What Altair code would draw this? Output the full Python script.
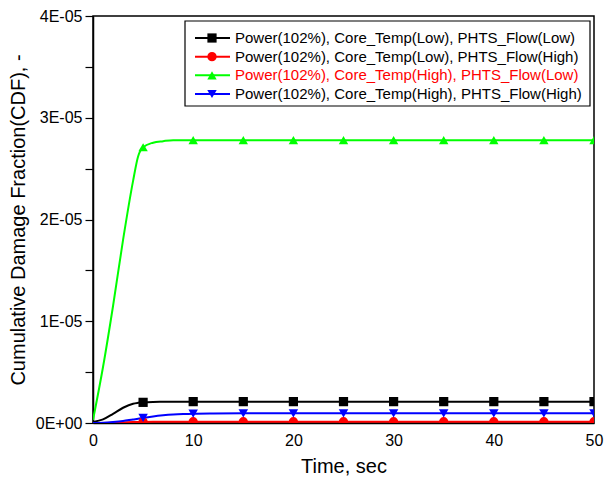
import altair as alt
import pandas as pd

# ---- data ----
series_names = [
    "Power(102%), Core_Temp(Low), PHTS_Flow(Low)",
    "Power(102%), Core_Temp(Low), PHTS_Flow(High)",
    "Power(102%), Core_Temp(High), PHTS_Flow(Low)",
    "Power(102%), Core_Temp(High), PHTS_Flow(High)",
]
series_colors = ["#000000", "#FF0000", "#00FF00", "#0000FF"]
series_shapes = ["square", "circle", "triangle-up", "triangle-down"]
series_sizes = [85, 90, 140, 140]

time_s = [0, 1, 2, 3, 4, 4.5, 5, 6, 7, 8, 9, 10, 12, 15, 20, 25, 30, 35, 40, 45, 50]

cdf_low_low = [0.010e-5, 0.035e-5, 0.090e-5, 0.150e-5, 0.190e-5, 0.198e-5, 0.203e-5, 0.207e-5,
               0.208e-5, 0.209e-5, 0.210e-5, 0.210e-5, 0.210e-5, 0.210e-5, 0.210e-5, 0.210e-5,
               0.210e-5, 0.210e-5, 0.210e-5, 0.210e-5, 0.210e-5]
cdf_low_high = [0.000e-5, 0.001e-5, 0.003e-5, 0.006e-5, 0.009e-5, 0.010e-5, 0.011e-5, 0.012e-5,
                0.012e-5, 0.012e-5, 0.012e-5, 0.012e-5, 0.012e-5, 0.012e-5, 0.012e-5, 0.012e-5,
                0.012e-5, 0.012e-5, 0.012e-5, 0.012e-5, 0.012e-5]
cdf_high_low = [0.03e-5, 0.55e-5, 1.15e-5, 1.80e-5, 2.38e-5, 2.62e-5, 2.71e-5, 2.755e-5,
                2.77e-5, 2.78e-5, 2.78e-5, 2.78e-5, 2.78e-5, 2.78e-5, 2.78e-5, 2.78e-5,
                2.78e-5, 2.78e-5, 2.78e-5, 2.78e-5, 2.78e-5]
cdf_high_high = [0.000e-5, 0.003e-5, 0.010e-5, 0.020e-5, 0.035e-5, 0.042e-5, 0.050e-5, 0.065e-5,
                 0.076e-5, 0.084e-5, 0.089e-5, 0.092e-5, 0.094e-5, 0.095e-5, 0.095e-5, 0.095e-5,
                 0.095e-5, 0.095e-5, 0.095e-5, 0.095e-5, 0.095e-5]

all_series = [cdf_low_low, cdf_low_high, cdf_high_low, cdf_high_high]

rows = []
for name, vals in zip(series_names, all_series):
    for t, v in zip(time_s, vals):
        rows.append({"t": t, "v": v, "series": name})
df = pd.DataFrame(rows)

FONT = "Liberation Sans"

color_enc = alt.Color("series:N", scale=alt.Scale(domain=series_names, range=series_colors), legend=None)
shape_enc = alt.Shape("series:N", scale=alt.Scale(domain=series_names, range=series_shapes), legend=None)
size_enc = alt.Size("series:N", scale=alt.Scale(domain=series_names, range=series_sizes), legend=None)

x_enc = alt.X(
    "t:Q",
    scale=alt.Scale(domain=[0, 50], nice=False),
    axis=alt.Axis(values=[0, 10, 20, 30, 40, 50], ticks=False, labelPadding=9, labelFlush=False,
                  title="Time, sec", titlePadding=8, grid=False),
)
y_axis = alt.Axis(
    values=[i * 0.5e-5 for i in range(9)],
    labelExpr="round(datum.value*1e6) % 10 == 0 ? (datum.value == 0 ? '0E+00' : round(datum.value*1e5) + 'E-05') : ''",
    tickSize=8, labelPadding=3, grid=False, labelFlush=False,
    title="Cumulative Damage Fraction(CDF), -", titlePadding=7,
)
y_scale = alt.Scale(domain=[0, 4e-5], nice=False)

lines = alt.Chart(df).mark_line(interpolate="monotone", strokeWidth=2, clip=True).encode(
    x=x_enc,
    y=alt.Y("v:Q", scale=y_scale, axis=y_axis),
    color=color_enc,
    detail="series:N",
)
points = alt.Chart(df).transform_filter("datum.t > 0 && datum.t % 5 == 0").mark_point(
    filled=True, opacity=1, clip=True
).encode(
    x=alt.X("t:Q"),
    y=alt.Y("v:Q", scale=y_scale),
    color=color_enc,
    shape=shape_enc,
    size=size_enc,
)
main = alt.layer(lines, points)

# ---- legend drawn as marks ----
leg_df = pd.DataFrame({"series": series_names, "row": list(range(len(series_names)))})
leg_y = alt.Y("row:Q", scale=alt.Scale(domain=[0, 3], range=[22, 78]), axis=None)

leg_box = alt.Chart(pd.DataFrame({"k": [0]})).mark_rect(
    fill="white", stroke="black", strokeWidth=1.2
).encode(x=alt.value(92), x2=alt.value(497), y=alt.value(5), y2=alt.value(90))
leg_rule = alt.Chart(leg_df).mark_rule(strokeWidth=2).encode(
    x=alt.value(102), x2=alt.value(137), y=leg_y, color=color_enc
)
leg_pts = alt.Chart(leg_df).mark_point(filled=True, opacity=1).encode(
    x=alt.value(119), y=leg_y, color=color_enc, shape=shape_enc, size=size_enc
)
leg_txt = alt.Chart(leg_df).mark_text(
    align="left", baseline="middle", fontSize=15, font=FONT
).encode(
    x=alt.value(142), y=leg_y, text="series:N",
    color=alt.condition(alt.datum.series == series_names[2], alt.value("#FF0000"), alt.value("#000000")),
)
legend = alt.layer(leg_box, leg_rule, leg_pts, leg_txt)

chart = alt.layer(main, legend).resolve_scale(y="independent").properties(
    width=501, height=407,
    padding={"left": 93, "top": 16, "right": 11, "bottom": 60},
    autosize=alt.AutoSizeParams(type="none"),
    background="white",
).configure_view(
    stroke="black", strokeWidth=1.5
).configure_axis(
    domainColor="black", domainWidth=1.5, tickColor="black", tickWidth=1.2,
    labelColor="black", titleColor="black",
    labelFont=FONT, titleFont=FONT, labelFontSize=16, titleFontSize=20,
    titleFontWeight="normal",
)

chart.save("out.html", embed_options={"renderer": "svg", "actions": False})
